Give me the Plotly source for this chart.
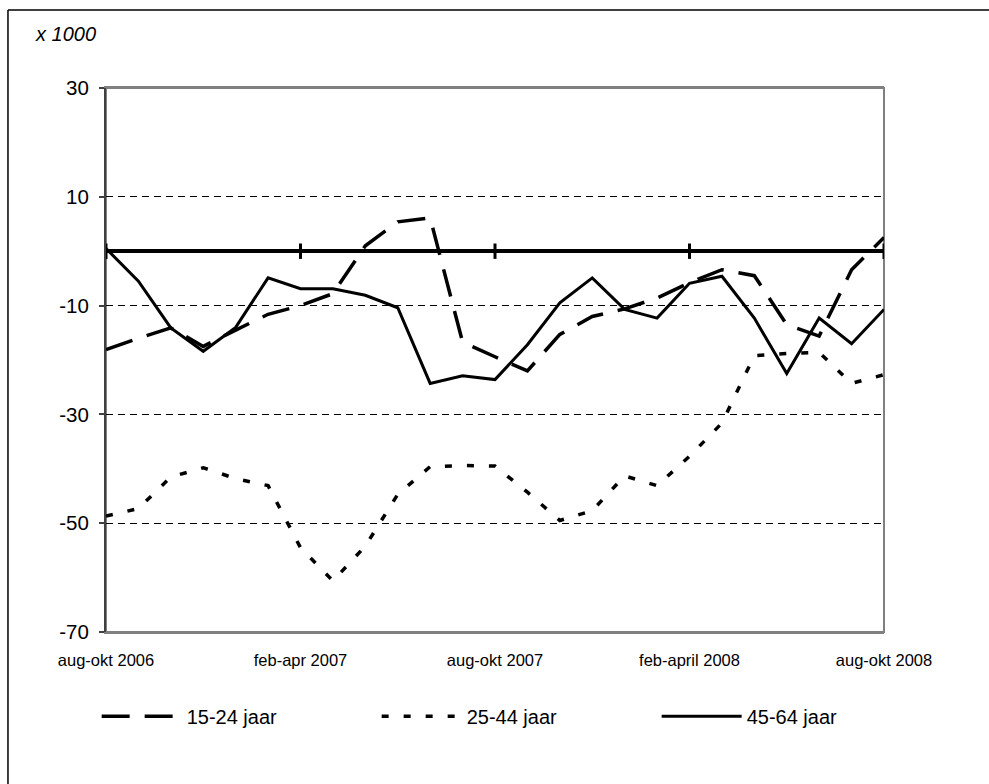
import plotly.graph_objects as go

periods = [
    "aug-okt 2006", "sep-nov 2006", "okt-dec 2006", "nov-jan 2007", "dec-feb 2007",
    "jan-mrt 2007", "feb-apr 2007", "mrt-mei 2007", "apr-jun 2007", "mei-jul 2007",
    "jun-aug 2007", "jul-sep 2007", "aug-okt 2007", "sep-nov 2007", "okt-dec 2007",
    "nov-jan 2008", "dec-feb 2008", "jan-mrt 2008", "feb-april 2008", "mrt-mei 2008",
    "apr-jun 2008", "mei-jul 2008", "jun-aug 2008", "jul-sep 2008", "aug-okt 2008",
]
tick_idx = [0, 6, 12, 18, 24]
tick_labels = ["aug-okt 2006", "feb-apr 2007", "aug-okt 2007", "feb-april 2008", "aug-okt 2008"]

jaar_15_24 = [-18.1, -16.0, -14.1, -17.5, -14.5, -11.6, -10.0, -7.8, 1.0, 5.4, 6.1, -16.7, -19.4,
              -22.0, -15.3, -12.0, -10.6, -8.6, -5.8, -3.4, -4.5, -13.5, -15.6, -3.4, 2.5]
jaar_25_44 = [-48.7, -47.3, -41.5, -39.8, -41.8, -43.1, -54.5, -60.6, -54.2, -44.7, -39.6, -39.4, -39.5,
              -44.3, -49.5, -47.7, -41.3, -43.1, -37.7, -31.6, -19.2, -18.8, -18.6, -24.3, -22.7]
jaar_45_64 = [0.5, -5.5, -14.1, -18.4, -14.0, -4.9, -6.9, -6.9, -8.1, -10.4, -24.3, -22.9, -23.6,
              -17.2, -9.5, -4.9, -10.7, -12.3, -5.9, -4.6, -12.3, -22.5, -12.3, -17.0, -10.7]

y_ticks = [30, 10, -10, -30, -50, -70]
y_tick_labels = ["30", "10", "-10", "-30", "-50", "-70"]

FONT = "Arial, 'Liberation Sans', sans-serif"

fig = go.Figure()

fig.add_trace(go.Scatter(x=periods, y=jaar_15_24, name="15-24 jaar", mode="lines",
                         line=dict(color="black", width=3.5, dash="28px,15px"), hoverinfo="skip"))
fig.add_trace(go.Scatter(x=periods, y=jaar_25_44, name="25-44 jaar", mode="lines",
                         line=dict(color="black", width=3.5, dash="7px,15px"), hoverinfo="skip"))
fig.add_trace(go.Scatter(x=periods, y=jaar_45_64, name="45-64 jaar", mode="lines",
                         line=dict(color="black", width=3), hoverinfo="skip"))
# tick marks on the zero (category) axis
fig.add_trace(go.Scatter(x=[periods[i] for i in tick_idx], y=[0] * len(tick_idx), mode="markers",
                         marker=dict(symbol="line-ns", size=11, line=dict(color="black", width=3)),
                         showlegend=False, hoverinfo="skip"))

fig.update_layout(
    width=989, height=784,
    margin=dict(l=106, r=105, t=88, b=152),
    paper_bgcolor="white", plot_bgcolor="white",
    font=dict(family=FONT, color="black"),
    showlegend=True,
    legend=dict(orientation="h", x=-0.012, y=-0.155, xanchor="left", yanchor="middle",
                font=dict(size=20, family=FONT), itemwidth=80, entrywidth=185,
                bgcolor="rgba(0,0,0,0)", tracegroupgap=0),
    shapes=[
        dict(type="rect", xref="paper", yref="paper", x0=0, x1=1, y0=0, y1=1,
             line=dict(color="#808080", width=2), layer="below"),
        dict(type="line", xref="paper", yref="paper", x0=-0.126, x1=1.2, y0=1.1434, y1=1.1434,
             line=dict(color="black", width=1.5)),
        dict(type="line", xref="paper", yref="paper", x0=-0.126, x1=-0.126, y0=1.1434, y1=-0.4,
             line=dict(color="black", width=1.5)),
    ],
    annotations=[
        dict(text="<i>x 1000</i>", xref="paper", yref="paper", x=-0.094, y=1.1,
             xanchor="left", yanchor="middle", showarrow=False, font=dict(size=20, family=FONT)),
    ],
)

fig.update_xaxes(
    type="category", range=[0, len(periods) - 1],
    tickmode="array", tickvals=[periods[i] for i in tick_idx], ticktext=tick_labels,
    ticks="outside", ticklen=12, tickcolor="rgba(0,0,0,0)",
    tickfont=dict(size=16.5, family=FONT),
    showgrid=False, showline=True, linecolor="#808080", linewidth=2, mirror=True,
    zeroline=False, tickangle=0,
)
fig.update_yaxes(
    range=[-70, 30], tickmode="array", tickvals=y_ticks, ticktext=y_tick_labels,
    ticks="outside", ticklen=5, tickcolor="#404040", tickwidth=1.5,
    ticklabelstandoff=6,
    tickfont=dict(size=20.5, family=FONT),
    showgrid=True, gridcolor="black", gridwidth=1, griddash="7px,5px",
    showline=True, linecolor="#404040", linewidth=2,
    zeroline=True, zerolinecolor="black", zerolinewidth=3.5,
)

fig.write_html("out.html", config={"displayModeBar": False},
               post_script="document.body.style.margin='0';document.body.style.overflow='hidden';")
